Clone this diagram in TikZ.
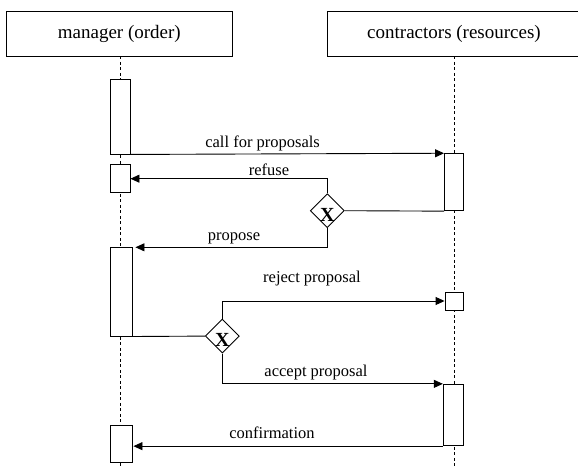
\documentclass[tikz,border=0pt]{standalone}
\usepackage{fontspec}
\setmainfont{Liberation Serif}
\newfontfamily\tnr{Liberation Serif}
\usetikzlibrary{shapes.geometric,arrows.meta}
\begin{document}
\begin{tikzpicture}[x=1pt,y=-1pt,
  line width=0.9pt,
  header/.style={draw,rectangle,minimum width=226pt,minimum height=45pt,inner sep=0pt,font=\tnr\fontsize{19}{22}\selectfont},
  act/.style={draw,fill=white,rectangle,inner sep=0pt},
  lifeline/.style={dashed,dash pattern=on 3pt off 2.5pt,line width=0.7pt},
  msg/.style={-{Triangle[length=9pt,width=8pt]}},
  lbl/.style={anchor=base,font=\tnr\fontsize{16.5}{19}\selectfont,inner sep=0pt},
  gate/.style={draw,fill=white,diamond,minimum width=34pt,minimum height=34pt,inner sep=0pt},
  gx/.style={font=\tnr\fontsize{20}{22}\bfseries\selectfont,inner sep=0pt}]
\useasboundingbox (0,0) rectangle (578,468);
% headers
\node[header] (mgr) at (119.3,33.5) {manager (order)};
\node[header,minimum width=254pt] (con) at (454,33.5) {contractors (resources)};
% lifelines
\coordinate (mbot) at (120,468);
\coordinate (cbot) at (454,468);
\draw[lifeline] (mgr.south -| mbot) -- (mbot);
\draw[lifeline] (con.south -| cbot) -- (cbot);
% manager activations
\node[act,minimum width=20pt,minimum height=75pt] (m1) at (120,116.5) {};
\node[act,minimum width=20pt,minimum height=28pt] (m2) at (120,178.7) {};
\node[act,minimum width=22pt,minimum height=88.3pt] (m3) at (121,291.9) {};
\node[act,minimum width=22pt,minimum height=36.6pt] (m4) at (121,444) {};
% contractor activations
\node[act,minimum width=19pt,minimum height=57pt] (c1) at (454,182.2) {};
\node[act,minimum width=18pt,minimum height=18pt] (c2) at (454,301) {};
\node[act,minimum width=20pt,minimum height=61.4pt] (c3) at (453.3,415) {};
% gateways
\node[gate] (g1) at (327.3,210.7) {};
\node[gx] at (327.3,214.7) {X};
\node[gate] (g2) at (222.3,336.1) {};
\node[gx] at (222.3,340.1) {X};
% messages
\draw[msg] (m1.south east) -- (c1.north west);
\node[lbl] (l1) at (262.6,147) {call for proposals};
\draw (c1.south west) -- (g1.east);
\draw[msg] (g1.north) |- (m2.east);
\node[lbl] (l2) at (269,175.7) {refuse};
\draw[msg] (g1.south) |- ([xshift=3pt]m3.north east);
\node[lbl] (l3) at (234,240.7) {propose};
\draw (m3.south east) -- (g2.west);
\draw[msg] (g2.north) |- (c2.west);
\node[lbl] (l4) at (312,282.7) {reject proposal};
\draw[msg] (g2.south) |- (c3.north west);
\node[lbl] (l5) at (316,376.7) {accept proposal};
\draw[msg] (c3.south west) -- ([xshift=1pt]m4.east |- c3.south west);
\node[lbl] (l6) at (272,438.7) {confirmation};
\end{tikzpicture}
\end{document}
